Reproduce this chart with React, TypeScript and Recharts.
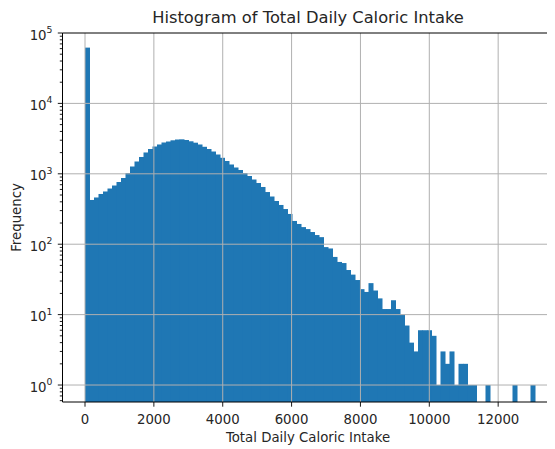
import React from 'react';
import { BarChart, Bar, XAxis, YAxis, ReferenceLine } from 'recharts';

// histogram: 100 equal bins starting at 0
const BIN_WIDTH = 130.7;
const binCounts = [
  62000, 425, 461, 517, 561, 618, 682, 765, 872, 1026,
  1270, 1496, 1734, 2009, 2250, 2443, 2609, 2785, 2876, 2992,
  3070, 3090, 3020, 2897, 2767, 2609, 2420, 2250, 2073, 1880,
  1688, 1520, 1356, 1229, 1133, 1026, 931, 830, 740, 650,
  551, 476, 411, 361, 316, 269, 214, 194, 175, 164,
  149, 135, 126, 91, 87, 66, 56, 54, 43, 37,
  31, 23, 21, 28, 22, 17, 12, 12, 16, 12,
  10, 7, 4, 3, 6, 6, 6, 5, 1, 3,
  2, 3, 1, 2, 2, 1, 1, 0, 0, 1,
  0, 0, 0, 0, 0, 1, 0, 0, 0, 1,
];

const xTicks = [0, 2000, 4000, 6000, 8000, 10000, 12000];
const yMajorTicks = [1, 10, 100, 1000, 10000, 100000];
const yMinorSubs = [2, 3, 4, 5, 6, 7, 8, 9];
const yMinorTicks = [0.6, 0.7, 0.8, 0.9];
[1, 10, 100, 1000, 10000].forEach((d) => yMinorSubs.forEach((s) => yMinorTicks.push(s * d)));

// empty bins either side give the 5% axis margin
const PAD_BINS = 5;
const Y_MIN = 0.574;

const data: { bin: number; x: number; count: number | null }[] = [];
for (let i = -PAD_BINS; i < binCounts.length + PAD_BINS; i++) {
  const c = i >= 0 && i < binCounts.length ? binCounts[i] : 0;
  data.push({ bin: i, x: (i + 0.5) * BIN_WIDTH, count: c > 0 ? c : null });
}

const FONT = 'DejaVu Sans';
const TEXT = '#262626';
const BLUE = '#1f77b4';
const GRID = '#b0b0b0';

const CHART_W = 560;
const CHART_H = 441;
const Y_AXIS_W = 54.5;
const PLOT_W = 495;
const BAND_PX = PLOT_W / data.length;

const HistRect = (props: any) => {
  const { x, y, height } = props;
  if (!height || height <= 0) return <g />;
  // overlap neighbours slightly so no seams show between bins
  return <rect x={x} y={y} width={BAND_PX + 0.5} height={height} fill={BLUE} />;
};

const LogTick = (props: any) => {
  const { y, payload } = props;
  const v = payload.value as number;
  const lg = Math.log10(v);
  const major = Math.abs(lg - Math.round(lg)) < 1e-9;
  const len = major ? 4.7 : 2.7;
  return (
    <g>
      <line x1={Y_AXIS_W - len} x2={Y_AXIS_W} y1={y} y2={y} stroke="#000" strokeWidth={0.9} />
      {major && (
        <text x={44.5} y={y + 6.5} textAnchor="end" fontSize={13.3} fill={TEXT} fontFamily={FONT}>
          10
          <tspan dy={-6.5} fontSize={9.3}>
            {Math.round(lg)}
          </tspan>
        </text>
      )}
    </g>
  );
};

const YTitle = () => (
  <text
    x={12.5}
    y={209.5}
    transform="rotate(-90, 12.5, 209.5)"
    textAnchor="middle"
    fontSize={13.3}
    fill={TEXT}
    fontFamily={FONT}
  >
    Frequency
  </text>
);

const XTitle = () => (
  <text x={300} y={434} textAnchor="middle" fontSize={13.3} fill={TEXT} fontFamily={FONT}>
    Total Daily Caloric Intake
  </text>
);

export default function App() {
  const xMax = (binCounts.length + PAD_BINS) * BIN_WIDTH;
  return (
    <div style={{ position: 'relative', width: 547, height: CHART_H, overflow: 'hidden' }}>
      <BarChart
        width={CHART_W}
        height={CHART_H}
        data={data}
        margin={{ top: 25, right: CHART_W - Y_AXIS_W - PLOT_W, left: 0, bottom: 7 }}
        barCategoryGap={0}
        barGap={0}
        style={{ fontFamily: FONT }}
      >
        <XAxis xAxisId="bins" dataKey="bin" type="category" height={0} hide />
        <XAxis
          xAxisId="num"
          dataKey="x"
          type="number"
          domain={[-PAD_BINS * BIN_WIDTH, xMax]}
          allowDataOverflow
          ticks={xTicks}
          interval={0}
          height={40}
          tickSize={4.7}
          tickMargin={8.3}
          tickLine={{ stroke: '#000', strokeWidth: 0.9 }}
          axisLine={{ stroke: '#000', strokeWidth: 1 }}
          tick={{ fill: TEXT, fontSize: 13.3, fontFamily: FONT }}
          label={<XTitle />}
        />
        <YAxis
          type="number"
          scale="log"
          domain={[Y_MIN, 100000]}
          allowDataOverflow
          ticks={[...yMajorTicks, ...yMinorTicks]}
          interval={0}
          width={Y_AXIS_W}
          tickLine={false}
          axisLine={{ stroke: '#000', strokeWidth: 1 }}
          tick={<LogTick />}
          label={<YTitle />}
        />
        <Bar
          xAxisId="bins"
          dataKey="count"
          fill={BLUE}
          shape={<HistRect />}
          isAnimationActive={false}
        />
        {yMajorTicks.slice(0, -1).map((t) => (
          <ReferenceLine key={`gy${t}`} xAxisId="num" y={t} stroke={GRID} strokeWidth={1} />
        ))}
        {xTicks.map((t) => (
          <ReferenceLine key={`gx${t}`} xAxisId="num" x={t} stroke={GRID} strokeWidth={1} />
        ))}
        <ReferenceLine xAxisId="num" y={100000} stroke="#000" strokeWidth={1} />
        <ReferenceLine xAxisId="num" x={xMax} stroke="#000" strokeWidth={1} />
      </BarChart>
      <svg
        width={547}
        height={30}
        style={{ position: 'absolute', left: 0, top: 0, pointerEvents: 'none' }}
      >
        <text x={300} y={14.5} textAnchor="middle" fontSize={16.3} fill={TEXT} fontFamily={FONT}>
          Histogram of Total Daily Caloric Intake
        </text>
      </svg>
    </div>
  );
}
